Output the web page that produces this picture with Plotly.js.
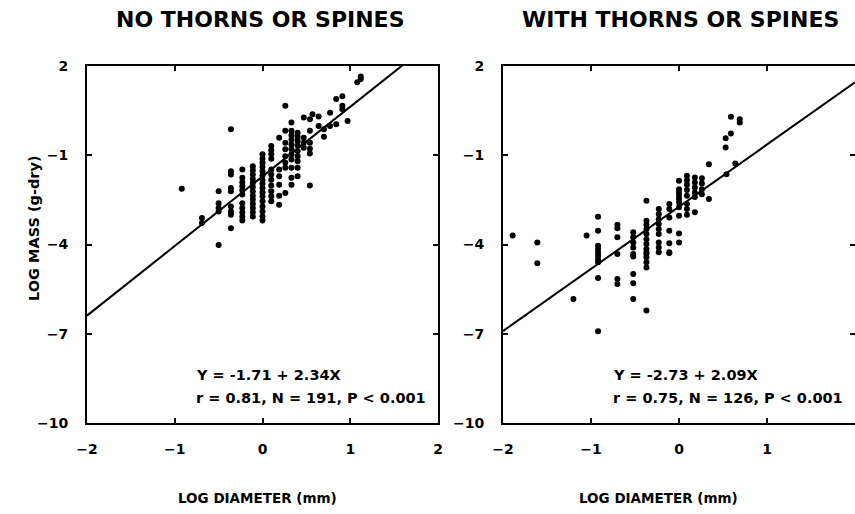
<!DOCTYPE html>
<html>
<head>
<meta charset="utf-8">
<script src="https://cdn.plot.ly/plotly-3.0.1.min.js"></script>
<style>html,body{margin:0;padding:0;background:#fff;}</style>
</head>
<body>
<div id="chart" style="width:855px;height:514px;"></div>
<script>
// ---- Data: NO THORNS OR SPINES (left panel) ----
const noThornsX = [
  -0.92,
  -0.69,-0.69,
  -0.50,-0.50,-0.50,-0.50,-0.50,
  -0.36,-0.36,-0.36,-0.36,-0.36,-0.36,-0.36,-0.36,-0.36,
  -0.23,-0.23,-0.23,-0.23,-0.23,-0.23,-0.23,-0.23,-0.23,-0.23,-0.23,
  -0.11,-0.11,-0.11,-0.11,-0.11,-0.11,-0.11,-0.11,-0.11,-0.11,-0.11,-0.11,-0.11,
  0.00,0.00,0.00,0.00,0.00,0.00,0.00,0.00,0.00,0.00,0.00,0.00,0.00,0.00,0.00,0.00,
  0.10,0.10,0.10,0.10,0.10,0.10,0.10,0.10,0.10,0.10,0.10,
  0.19,0.19,0.19,0.19,0.19,0.19,
  0.26,0.26,0.26,0.26,0.26,0.26,0.26,0.26,
  0.33,0.33,0.33,0.33,0.33,0.33,0.33,0.33,0.33,0.33,0.33,
  0.40,0.40,0.40,0.40,0.40,0.40,0.40,0.40,0.40,
  0.47,0.47,0.47,0.47,
  0.54,0.54,0.54,0.54,0.54,0.54,
  0.57,
  0.64,0.64,
  0.70,0.70,
  0.77,0.77,
  0.84,0.84,
  0.91,0.91,0.91,
  0.97,
  1.08,
  1.12,1.12
];
const noThornsY = [
  -2.13,
  -3.11,-3.28,
  -2.21,-2.61,-2.77,-2.89,-4.02,
  -0.13,-1.54,-1.65,-2.10,-2.21,-2.72,-2.89,-3.00,-3.45,
  -1.48,-1.76,-1.91,-2.04,-2.18,-2.32,-2.61,-2.77,-2.92,-3.06,-3.19,
  -1.37,-1.50,-1.65,-1.80,-1.93,-2.07,-2.21,-2.36,-2.49,-2.63,-2.77,-2.92,-3.06,
  -0.97,-1.12,-1.25,-1.39,-1.54,-1.68,-1.82,-1.95,-2.10,-2.25,-2.38,-2.55,-2.72,-2.89,-3.06,-3.19,
  -0.69,-0.83,-0.97,-1.12,-1.48,-1.65,-1.82,-2.02,-2.21,-2.38,-2.55,
  -0.41,-1.48,-1.71,-1.99,-2.36,-2.66,
  0.66,-0.18,-0.58,-0.80,-1.03,-1.25,-1.42,-2.27,
  0.10,-0.18,-0.33,-0.47,-0.64,-0.80,-0.97,-1.14,-1.42,-1.76,-1.99,
  -0.24,-0.38,-0.52,-0.67,-0.86,-1.03,-1.20,-1.42,-1.71,
  0.27,-0.41,-0.58,-0.75,
  0.21,-0.18,-0.58,-0.78,-0.94,-2.02,
  0.38,
  0.30,-0.02,
  -0.13,-0.38,
  0.43,-0.02,
  0.89,0.04,
  0.98,0.66,0.55,
  0.15,
  1.45,
  1.65,1.56
];

// ---- Data: WITH THORNS OR SPINES (right panel) ----
const thornsX = [
  -1.89,
  -1.61,-1.61,
  -1.20,
  -1.05,
  -0.92,-0.92,-0.92,-0.92,-0.92,-0.92,-0.92,-0.92,-0.92,-0.92,
  -0.70,-0.70,-0.70,-0.70,-0.70,-0.70,
  -0.52,-0.52,-0.52,-0.52,-0.52,-0.52,-0.52,-0.52,-0.52,
  -0.37,-0.37,-0.37,-0.37,-0.37,-0.37,-0.37,-0.37,-0.37,-0.37,-0.37,-0.37,-0.37,-0.37,
  -0.23,-0.23,-0.23,-0.23,-0.23,-0.23,-0.23,-0.23,-0.23,
  -0.11,-0.11,-0.11,-0.11,-0.11,-0.11,-0.11,
  0.00,0.00,0.00,0.00,0.00,0.00,0.00,0.00,0.00,0.00,
  0.09,0.09,0.09,0.09,0.09,0.09,0.09,0.09,
  0.18,0.18,0.18,0.18,0.18,0.18,
  0.26,0.26,0.26,0.26,
  0.34,0.34,
  0.53,0.53,
  0.54,
  0.59,0.59,
  0.64,
  0.69,0.69
];
const thornsY = [
  -3.70,
  -3.93,-4.63,
  -5.83,
  -3.70,
  -3.07,-3.54,-4.04,-4.15,-4.27,-4.38,-4.50,-4.60,-5.13,-6.92,
  -3.34,-3.45,-3.76,-4.32,-5.16,-5.33,
  -3.59,-3.76,-3.93,-4.10,-4.32,-4.40,-4.99,-5.30,-5.83,
  -2.53,-3.20,-3.34,-3.48,-3.65,-3.82,-3.98,-4.15,-4.32,-4.43,-4.60,-4.77,-4.26,-6.22,
  -2.81,-2.98,-3.15,-3.31,-3.48,-3.65,-3.93,-4.10,-4.26,
  -2.64,-2.81,-3.09,-3.54,-3.96,-4.26,-4.29,
  -1.86,-2.14,-2.25,-2.36,-2.47,-2.59,-2.75,-3.03,-3.63,-3.93,
  -1.69,-1.84,-1.99,-2.17,-2.36,-2.64,-2.81,-3.00,
  -1.75,-1.92,-2.08,-2.25,-2.40,-2.92,
  -1.77,-1.95,-2.14,-2.31,
  -1.30,-2.47,
  -0.43,-0.74,
  -1.64,
  0.29,-0.27,
  -1.28,
  0.21,0.10
];

// ---- Regression fits and labels ----
const noThornsFit = {intercept: -1.71, slope: 2.34};
const thornsFit = {intercept: -2.73, slope: 2.09};
const fitX = [-2, 2];
const panelTitles = ["NO THORNS OR SPINES", "WITH THORNS OR SPINES"];
const statLines = [
  ["Y = -1.71 + 2.34X", "r = 0.81, N = 191, P < 0.001"],
  ["Y = -2.73 + 2.09X", "r = 0.75, N = 126, P < 0.001"]
];
const xTitle = "LOG DIAMETER (mm)";
const yTitle = "LOG MASS (g-dry)";
const xTickVals = [-2, -1, 0, 1, 2];
const yTickVals = [2, -1, -4, -7, -10];

// ---- Build ----
const FONT = "DejaVu Sans, Arial, sans-serif";
const W = 855, H = 514;
const px = v => v / W;
const py = v => 1 - v / H;

const markerStyle = {color: "#000", size: 6};
const lineStyle = {color: "#000", width: 2};

const traces = [
  {x: noThornsX, y: noThornsY, mode: "markers", type: "scatter", marker: markerStyle, xaxis: "x", yaxis: "y", cliponaxis: true},
  {x: fitX, y: fitX.map(v => noThornsFit.intercept + noThornsFit.slope * v), mode: "lines", type: "scatter", line: lineStyle, xaxis: "x", yaxis: "y"},
  {x: thornsX, y: thornsY, mode: "markers", type: "scatter", marker: markerStyle, xaxis: "x2", yaxis: "y2", cliponaxis: true},
  {x: fitX, y: fitX.map(v => thornsFit.intercept + thornsFit.slope * v), mode: "lines", type: "scatter", line: lineStyle, xaxis: "x2", yaxis: "y2"}
];

const tickFont = {family: FONT, size: 14, color: "#000", weight: "bold"};
function xAxis(dom, anchor) {
  return {domain: dom, anchor: anchor, range: [-2, 2], tickvals: xTickVals,
    ticks: "inside", ticklen: 5, tickwidth: 2, tickcolor: "#000",
    showline: true, linewidth: 2, linecolor: "#000", mirror: "ticks",
    showgrid: false, zeroline: false, tickfont: tickFont, ticklabelstandoff: 12, fixedrange: true};
}
function yAxis(anchor) {
  return {domain: [py(423), py(66)], anchor: anchor, range: [-10, 2], tickvals: yTickVals,
    ticks: "inside", ticklen: 5, tickwidth: 2, tickcolor: "#000",
    showline: true, linewidth: 2, linecolor: "#000", mirror: "ticks",
    showgrid: false, zeroline: false, tickfont: tickFont, ticklabelstandoff: 14, fixedrange: true};
}

const titleFont = {family: FONT, size: 22, color: "#000", weight: "bold"};
const statFont = {family: FONT, size: 14.5, color: "#000", weight: "bold"};
const axTitleFont = {family: FONT, size: 13.5, color: "#000", weight: "bold"};

const annotations = [
  {text: panelTitles[0], xref: "paper", yref: "paper", x: px(260), y: py(20), xanchor: "center", yanchor: "middle", showarrow: false, font: titleFont},
  {text: panelTitles[1], xref: "paper", yref: "paper", x: px(680), y: py(20), xanchor: "center", yanchor: "middle", showarrow: false, font: titleFont},
  {text: statLines[0][0], xref: "x", yref: "y", x: -0.78, y: -8.4, xanchor: "left", yanchor: "middle", showarrow: false, font: statFont},
  {text: statLines[0][1], xref: "x", yref: "y", x: -0.78, y: -9.15, xanchor: "left", yanchor: "middle", showarrow: false, font: statFont},
  {text: statLines[1][0], xref: "x2", yref: "y2", x: -0.77, y: -8.4, xanchor: "left", yanchor: "middle", showarrow: false, font: statFont},
  {text: statLines[1][1], xref: "x2", yref: "y2", x: -0.77, y: -9.15, xanchor: "left", yanchor: "middle", showarrow: false, font: statFont},
  {text: xTitle, xref: "paper", yref: "paper", x: px(257), y: py(498), xanchor: "center", yanchor: "middle", showarrow: false, font: axTitleFont},
  {text: xTitle, xref: "paper", yref: "paper", x: px(658), y: py(498), xanchor: "center", yanchor: "middle", showarrow: false, font: axTitleFont},
  {text: yTitle, xref: "paper", yref: "paper", x: px(34), y: py(228), xanchor: "center", yanchor: "middle", textangle: -90, showarrow: false, font: {family: FONT, size: 14.5, color: "#000", weight: "bold"}}
];

const layout = {
  width: W, height: H, autosize: false,
  margin: {l: 0, r: 0, t: 0, b: 0, pad: 0},
  paper_bgcolor: "#fff", plot_bgcolor: "#fff",
  showlegend: false,
  xaxis: xAxis([px(87), px(438)], "y"),
  yaxis: yAxis("x"),
  xaxis2: xAxis([px(503), 1], "y2"),
  yaxis2: yAxis("x2"),
  annotations: annotations
};

Plotly.newPlot("chart", traces, layout, {staticPlot: true, displayModeBar: false});
</script>
</body>
</html>
